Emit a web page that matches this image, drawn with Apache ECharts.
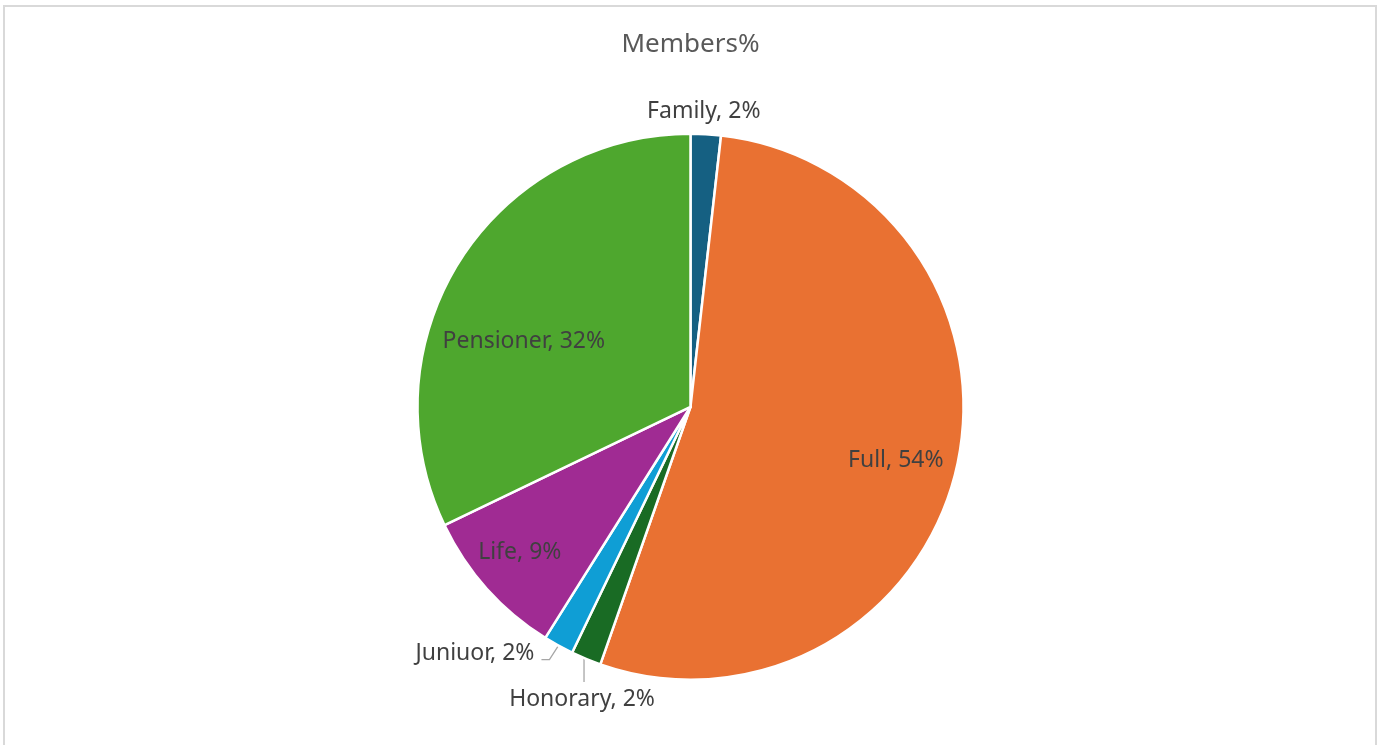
<!DOCTYPE html>
<html>
<head>
<meta charset="utf-8">
<script src="https://cdn.jsdelivr.net/npm/echarts@6/dist/echarts.min.js"></script>
<style>
html,body{margin:0;padding:0;background:#fff;}
#chart{position:absolute;left:0;top:0;width:1381px;height:745px;}
#frame{position:absolute;left:3px;top:5px;width:1370px;height:760px;border:2px solid #d9d9d9;pointer-events:none;}
</style>
</head>
<body>
<div id="chart"></div>
<div id="frame"></div>
<script>
const categories = ['Family', 'Full', 'Honorary', 'Juniuor', 'Life', 'Pensioner'];
const members = [2, 60, 2, 2, 10, 36];
const colors = ['#156082', '#E97132', '#196B24', '#0F9ED5', '#A02B93', '#4EA72E'];
const insideLabels = ['Full', 'Life', 'Pensioner'];

const total = members.reduce((a, b) => a + b, 0);
const fmt = p => p.name + ', ' + Math.round(p.value / total * 100) + '%';
const FONT = 'Noto Sans';
const LABEL_SIZE = 23;

// leader-line / label placement relative to the slice edge point
function outsideLayout(p) {
  const pts = p.labelLinePoints;
  if (!pts) return {};
  const p0 = pts[0];
  const r = p.labelRect;
  const cx = r.x + r.width / 2, cy = r.y + r.height / 2;
  const name = categories[p.dataIndex];
  if (name === 'Family') {
    return { dx: (p0[0] - 2) - cx, dy: (p0[1] - 23) - cy, labelLinePoints: [p0, p0, p0], hideOverlap: false };
  }
  if (name === 'Honorary') {
    const p1 = [p0[0] - 2, p0[1]];
    const p2 = [p0[0] - 2, p0[1] + 23];
    return { dx: (p0[0] - 4) - cx, dy: (p0[1] + 40) - cy, labelLinePoints: [p1, p2, p2], hideOverlap: false };
  }
  if (name === 'Juniuor') {
    const p1 = [p0[0] - 9, p0[1] + 14];
    const p2 = [p1[0] - 8, p1[1]];
    return { dx: (p2[0] - 7 - r.width / 2) - cx, dy: (p2[1] - 6) - cy, labelLinePoints: [p0, p1, p2], hideOverlap: false };
  }
  return {};
}

const chart = echarts.init(document.getElementById('chart'));
chart.setOption({
  animation: false,
  title: {
    text: 'Members%', left: 'center', top: 27,
    textStyle: { fontFamily: FONT, fontSize: 26, fontWeight: 'normal', color: '#595959' }
  },
  series: [
    {
      type: 'pie',
      center: ['50%', '54.6%'],
      radius: 273,
      startAngle: 90,
      clockwise: true,
      avoidLabelOverlap: false,
      itemStyle: { borderColor: '#ffffff', borderWidth: 2.5 },
      label: {
        show: true, position: 'outside', formatter: fmt,
        fontFamily: FONT, fontSize: LABEL_SIZE, color: '#404040'
      },
      labelLine: { show: true, length: 10, length2: 8, lineStyle: { color: '#a6a6a6', width: 1.3 } },
      labelLayout: outsideLayout,
      data: categories.map((c, i) => ({
        name: c, value: members[i],
        itemStyle: { color: colors[i] },
        label: { show: !insideLabels.includes(c) },
        labelLine: { show: !insideLabels.includes(c) && c !== 'Family' }
      }))
    },
    {
      type: 'pie',
      center: ['50%', '54.6%'],
      radius: [136, 273],
      startAngle: 90,
      clockwise: true,
      silent: true,
      itemStyle: { color: 'rgba(0,0,0,0)', borderWidth: 0 },
      label: {
        show: true, position: 'inside', formatter: fmt,
        fontFamily: FONT, fontSize: LABEL_SIZE, color: '#404040'
      },
      labelLayout: p => {
        const n = categories[p.dataIndex];
        if (n === 'Pensioner') return { dx: 9, dy: 45 };
        if (n === 'Life') return { dx: -16, dy: 7 };
        if (n === 'Full') return { dx: 3, dy: 8 };
        return {};
      },
      data: categories.map((c, i) => ({
        name: c, value: members[i],
        label: { show: insideLabels.includes(c) }
      }))
    }
  ]
});
</script>
</body>
</html>
